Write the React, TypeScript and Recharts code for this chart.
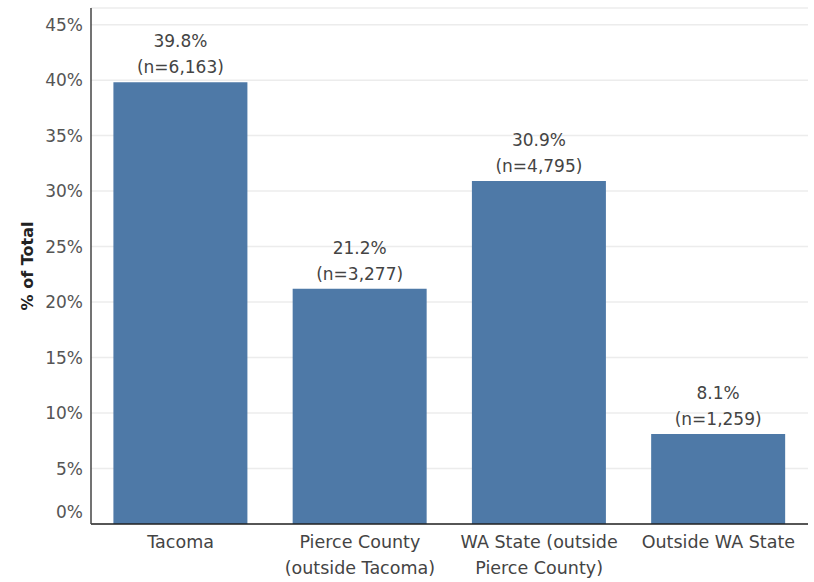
import { BarChart, Bar, XAxis, YAxis, CartesianGrid, LabelList } from 'recharts';

const categories = ['Tacoma', 'Pierce County\n(outside Tacoma)', 'WA State (outside\nPierce County)', 'Outside WA State'];
const percentValues = [39.8, 21.2, 30.9, 8.1];
const counts = [6163, 3277, 4795, 1259];
const yTicks = [0, 5, 10, 15, 20, 25, 30, 35, 40, 45];

const FONT = '"DejaVu Sans", sans-serif';

const chartData = categories.map((name, i) => ({
  name,
  pct: percentValues[i],
  n: counts[i],
}));

const YTick = (props: any) => {
  const { x, y, payload } = props;
  // tableau nudges the 0% label up so it stays inside the pane
  const shift = payload.value === 0 ? -12 : 0;
  return (
    <text x={x} y={y + shift} dy={6} textAnchor="end" fill="#555" fontSize={17} fontFamily={FONT}>
      {payload.value}%
    </text>
  );
};

const XTick = (props: any) => {
  const { x, y, payload } = props;
  const lines = String(payload.value).split('\n');
  return (
    <g>
      {lines.map((line, i) => (
        <text key={i} x={x} y={y + 16 + i * 26} textAnchor="middle" fill="#444" fontSize={17.5} fontFamily={FONT}>
          {line}
        </text>
      ))}
    </g>
  );
};

const BarLabel = (props: any) => {
  const { x, y, width, index } = props;
  const cx = x + width / 2;
  return (
    <g>
      <text x={cx} y={y - 35} textAnchor="middle" fill="#444" fontSize={17} fontFamily={FONT}>
        {percentValues[index].toFixed(1)}%
      </text>
      <text x={cx} y={y - 9} textAnchor="middle" fill="#444" fontSize={17} fontFamily={FONT}>
        (n={counts[index].toLocaleString('en-US')})
      </text>
    </g>
  );
};

const App = () => {
  return (
    <div style={{ position: 'absolute', left: 0, top: 0, width: 814, height: 582, background: '#fff' }}>
      <BarChart
        width={814}
        height={582}
        data={chartData}
        margin={{ top: 8, right: 6, bottom: 0, left: 0 }}
        barCategoryGap="12.5%"
      >
        <CartesianGrid vertical={false} stroke="#ececec" strokeWidth={1.5} />
        <XAxis
          dataKey="name"
          height={58}
          interval={0}
          tickLine={false}
          tick={<XTick />}
          axisLine={{ stroke: '#222', strokeWidth: 1.5 }}
        />
        <YAxis
          width={91}
          domain={[0, 46.5]}
          ticks={yTicks}
          tickLine={false}
          tick={<YTick />}
          axisLine={{ stroke: '#444', strokeWidth: 1.5 }}
          label={{
            value: '% of Total',
            angle: -90,
            position: 'insideLeft',
            offset: 27,
            style: { fontFamily: FONT, fontWeight: 'bold', fontSize: 16, fill: '#222', textAnchor: 'middle' },
          }}
        />
        <Bar dataKey="pct" fill="#4e79a7" isAnimationActive={false}>
          <LabelList dataKey="pct" content={<BarLabel />} />
        </Bar>
      </BarChart>
    </div>
  );
};

export default App;
